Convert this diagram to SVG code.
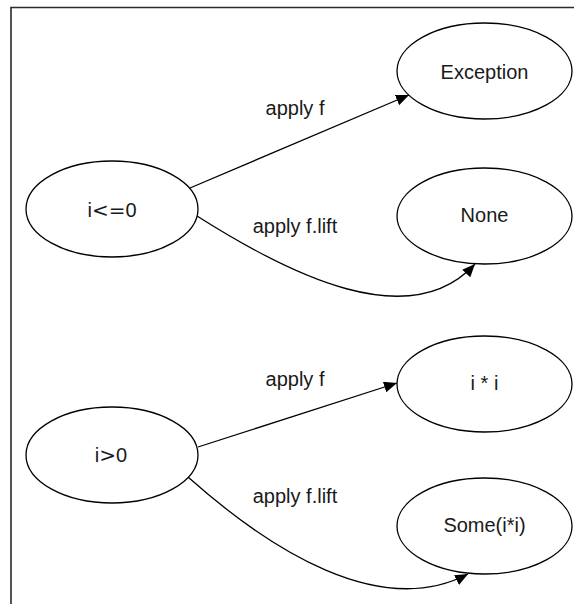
<svg xmlns="http://www.w3.org/2000/svg" width="574" height="604" viewBox="0 0 574 604">
<style>
.node ellipse{fill:#fff;stroke:#000;stroke-width:1.3}
text{font-family:"Liberation Sans",Arial,sans-serif;font-size:20px;fill:#1a1a1a;text-anchor:middle}
.sym{font-family:"DejaVu Sans",sans-serif}
.edge{fill:none;stroke:#000;stroke-width:1.3}
</style>
<defs>
<marker id="arr" markerWidth="14" markerHeight="12" refX="13" refY="5.5" orient="auto" markerUnits="userSpaceOnUse">
<path d="M0,0 L13,5.5 L0,11 z" fill="#000"/>
</marker>
</defs>
<rect width="574" height="604" fill="#fff"/>
<path d="M11,604 V7.5 H574" fill="none" stroke="#2a2a2a" stroke-width="1.6"/>
<g id="connectors">
<path class="edge" d="M190,188 L409,95" marker-end="url(#arr)"/>
<path class="edge" d="M197,216 C290,275 410,335 475,264" marker-end="url(#arr)"/>
<path class="edge" d="M198,447 L397,383" marker-end="url(#arr)"/>
<path class="edge" d="M188,477 C270,550 380,620 468,574" marker-end="url(#arr)"/>
<text x="295" y="115">apply f</text>
<text x="295" y="233">apply f.lift</text>
<text x="295" y="386">apply f</text>
<text x="295" y="503">apply f.lift</text>
</g>
<g id="n-le0" class="node"><ellipse cx="112" cy="209" rx="86" ry="48"/><text x="112" y="217">i<tspan class="sym">&lt;=</tspan>0</text></g>
<g id="n-gt0" class="node"><ellipse cx="112" cy="455" rx="86" ry="48"/><text x="111" y="462">i<tspan class="sym">&gt;</tspan>0</text></g>
<g id="n-exception" class="node"><ellipse cx="484.5" cy="71" rx="87.5" ry="48"/><text x="484.5" y="79">Exception</text></g>
<g id="n-none" class="node"><ellipse cx="484.5" cy="216" rx="87.5" ry="48"/><text x="484.5" y="222">None</text></g>
<g id="n-ii" class="node"><ellipse cx="484.5" cy="384" rx="87.5" ry="48"/><text x="484.5" y="390">i * i</text></g>
<g id="n-some" class="node"><ellipse cx="484.5" cy="526" rx="87.5" ry="48"/><text x="484.5" y="532">Some(i*i)</text></g>
</svg>
